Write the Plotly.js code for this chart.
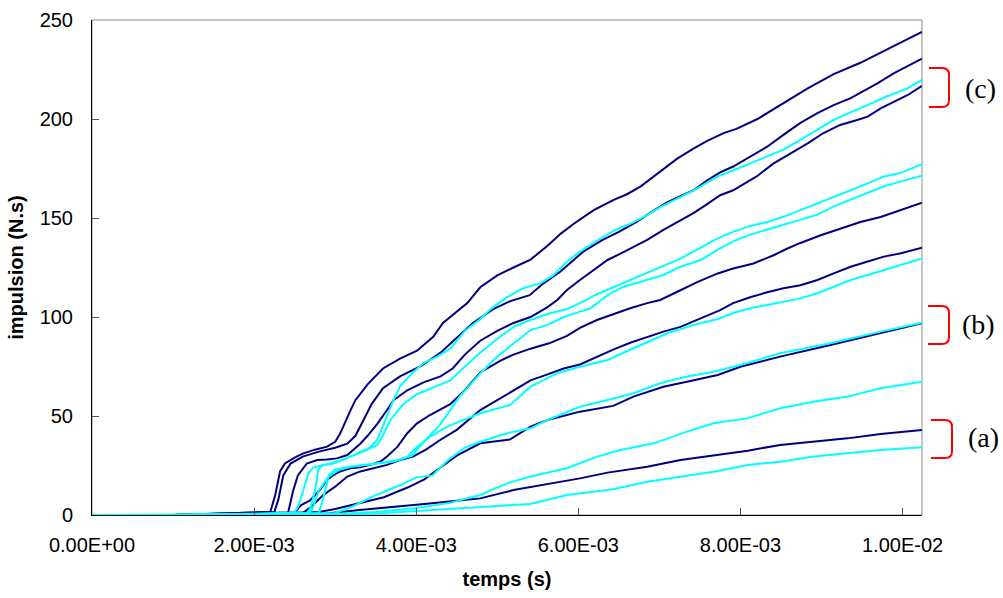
<!DOCTYPE html>
<html>
<head>
<meta charset="utf-8">
<script src="https://cdn.plot.ly/plotly-3.0.1.min.js"></script>
<style>html,body{margin:0;padding:0;background:#fff;}#chart{width:1003px;height:598px;}</style>
</head>
<body>
<div id="chart"></div>
<script>
// ---- data (time in seconds, impulse in N.s) ----
const N244_t = [0,0.001,0.002,0.0022,0.00226,0.00232,0.00238,0.0025,0.0026,0.00275,0.0029,0.003,0.00306,0.00313,0.00319,0.00325,0.0034,0.00359,0.0038,0.00401,0.00421,0.00433,0.00442,0.00463,0.00479,0.005,0.0052,0.00541,0.00562,0.00578,0.00594,0.00619,0.00643,0.0066,0.00677,0.00693,0.00705,0.00722,0.00742,0.00759,0.0078,0.00795,0.00821,0.00849,0.00883,0.00915,0.00948,0.00981,0.01024];
const N244_v = [0,0,1.2,1.6,10,22,26,29,31,33,34.5,37,41,48,53,58,66,74,79,83,90,97,100,107,115,121,125,129,136,142,147,154,159,162,166,171,175,180,185,189,193,195,200,207,215.5,222.7,228.4,235.2,244];

const N230_t = [0,0.001,0.002,0.00225,0.0023,0.00236,0.00245,0.0026,0.0028,0.003,0.00315,0.00325,0.00335,0.00345,0.00359,0.0038,0.00405,0.0043,0.00446,0.0047,0.00495,0.00516,0.0054,0.00557,0.00578,0.00606,0.0063,0.0065,0.00672,0.0069,0.0071,0.00726,0.00742,0.00759,0.00775,0.00791,0.00812,0.00833,0.00853,0.00874,0.00895,0.00915,0.00936,0.00952,0.00969,0.00989,0.01006,0.01024];
const N230_v = [0,0,1.2,1.5,8,20,26,29.5,32,34,36,40,48,56,64,70,75,82,88,97,104,108,111,117,123,133,139,143,148,153,158,161,164,169,173,176,181,186,192,198,203,207,210.5,214,218,223,226.5,230.5];

const C220_t = [0,0.001,0.002,0.0025,0.00255,0.0026,0.00267,0.00273,0.0029,0.0031,0.00327,0.0034,0.00352,0.00364,0.00372,0.0038,0.00396,0.0041,0.00426,0.00442,0.0046,0.00479,0.00492,0.00512,0.00532,0.00553,0.00569,0.00586,0.00602,0.00623,0.00643,0.00664,0.00685,0.00701,0.00726,0.00751,0.00772,0.00791,0.00812,0.00833,0.00853,0.00874,0.00895,0.00915,0.00936,0.00957,0.00981,0.01006,0.01024];
const C220_v = [0,0,0.6,1.2,5,12,21,24,25.5,28,31,33,38,50,58,65,72,77,80,84,93,99,104,110,114.5,117,121,128,133,138.5,143.5,147,151.5,155.5,160.5,166,171,174,177.5,181,184.5,189.5,194.5,199.5,203.5,207,211.5,215.5,219.7];

const N217_t = [0,0.001,0.002,0.00242,0.00248,0.00254,0.00265,0.00278,0.0029,0.00302,0.00315,0.00322,0.00331,0.0034,0.00352,0.00364,0.00372,0.00389,0.00409,0.0043,0.00445,0.0046,0.00479,0.005,0.0052,0.00541,0.00562,0.00574,0.00586,0.00602,0.00619,0.00636,0.00652,0.00668,0.00685,0.00705,0.00726,0.00742,0.00759,0.00775,0.00791,0.0082,0.00841,0.00862,0.00883,0.00902,0.00923,0.00944,0.00957,0.00973,0.00989,0.01006,0.01024];
const N217_v = [0,0,1,1.3,12,20,26,27.8,28,28.6,30.3,33,36,40,46,53,58,63,67,70,74,81,88,93,97,100,105,108.6,113.6,118.7,123.7,128.8,132,135.5,139,144,149,152.5,157,161.5,164,171,177.6,182.7,187.7,192.8,197,199.5,201.2,205.4,208.7,212,216.7];

const C178_t = [0,0.001,0.002,0.00265,0.00269,0.00275,0.00279,0.00284,0.00298,0.00319,0.00331,0.00343,0.00352,0.00358,0.00368,0.00384,0.00401,0.00421,0.00442,0.0046,0.00479,0.005,0.0052,0.00541,0.00562,0.00586,0.00602,0.00623,0.00643,0.00664,0.00685,0.00705,0.00726,0.00751,0.00772,0.00791,0.00812,0.00833,0.00853,0.00874,0.00895,0.00915,0.00936,0.00957,0.00977,0.00998,0.01024];
const C178_v = [0,0,0.5,1,3,12,22.7,25.3,26,29.5,32,33.7,35.4,39.5,48,56,61,64.6,68,75,82,89,95,98.5,101.5,104,107,111.5,115,118.5,122,125.5,129.5,135,139.7,143,146,148,150.6,154,157.3,160.7,164,167.5,171,172.8,177.2];

const C171_t = [0,0.001,0.002,0.0028,0.00285,0.00292,0.003,0.0032,0.0034,0.0036,0.0038,0.00395,0.00405,0.00418,0.0043,0.00442,0.00454,0.00467,0.00479,0.005,0.0052,0.00541,0.00562,0.00582,0.00602,0.00615,0.00636,0.00656,0.00677,0.00705,0.00726,0.00751,0.00772,0.00791,0.00812,0.00833,0.00853,0.00874,0.00895,0.00915,0.00936,0.00957,0.00977,0.00998,0.01024];
const C171_v = [0,0,0.4,1,8,20,23,24.5,25.5,26.5,28,30,35,41,46,53,60,66,71.5,80,86.7,93.4,96,100,102.7,104.4,111,115.3,117.8,121.2,125.4,128.8,134,138.2,141.6,144.1,146.6,149.2,151.7,155.9,159.3,162.6,166,168.5,171.4];

const N157_t = [0,0.001,0.002,0.0025,0.00258,0.00269,0.00281,0.0029,0.00298,0.00306,0.00319,0.00331,0.00343,0.00356,0.00364,0.00377,0.00389,0.00401,0.00417,0.00442,0.0046,0.00479,0.00504,0.0052,0.00541,0.00564,0.00586,0.00602,0.00623,0.00643,0.00664,0.00685,0.00701,0.00726,0.00746,0.00772,0.00791,0.00816,0.00841,0.00858,0.00874,0.00899,0.00923,0.00948,0.00973,0.00998,0.01024];
const N157_v = [0,0,0.8,1.3,5,7.4,12.6,17.7,20.2,22,23.6,24.1,25.3,27,29.5,34.5,41.3,46.3,50.5,56,63,72,78,81,84,86.7,90.5,94.5,98.5,101.5,104.4,107,108.6,113.5,117.5,122,124.5,127,131.2,134.6,137.4,141.3,144.7,148,150.5,153.9,157.7];

const N135_t = [0,0.001,0.002,0.0026,0.0027,0.00285,0.003,0.00315,0.00331,0.00347,0.00364,0.0038,0.00396,0.00412,0.0043,0.0045,0.00465,0.00479,0.005,0.0052,0.00541,0.00562,0.00582,0.00602,0.00623,0.00643,0.00664,0.00685,0.00705,0.00726,0.00746,0.00775,0.00791,0.00812,0.00833,0.00853,0.00874,0.00895,0.00915,0.00936,0.00957,0.00977,0.00998,0.01024];
const N135_v = [0,0,0.6,1,4,10,14.3,19.4,22,23.6,25.3,27.8,29.5,33,38,43,48,53,58,63,68,71,74,76,80,83.5,87,90,92.6,95,98.5,103.5,107,110,112.5,114.5,116,118.7,122,125.4,128,130.5,132.2,135];

const C130_t = [0,0.001,0.002,0.00265,0.00272,0.0028,0.00292,0.00304,0.00319,0.00336,0.00356,0.00373,0.00389,0.00401,0.00417,0.00438,0.00479,0.00516,0.00541,0.00574,0.00602,0.00636,0.00668,0.0071,0.00742,0.00772,0.00791,0.00812,0.00833,0.00853,0.00874,0.00895,0.00915,0.00936,0.00957,0.00977,0.00998,0.01024];
const C130_v = [0,0,0.4,0.8,3,12.6,19.4,22.7,24.4,25.3,26.1,27,29.5,34.5,39.5,44.6,51.4,55.6,64.8,71.6,74.9,78.3,84.2,91.8,96,99,102,104.4,106.1,107.7,109.4,112,115.3,118.7,121.2,123.7,126.3,129.6];

const N97_t = [0,0.001,0.002,0.0026,0.0028,0.003,0.0033,0.0036,0.0039,0.0041,0.0043,0.0045,0.00479,0.00516,0.00541,0.00562,0.00602,0.00643,0.00668,0.00705,0.00734,0.00772,0.008,0.00849,0.00911,0.00973,0.01024];
const N97_v = [0,0,0.5,1,1.5,3,6,9,14,18,24,30,36.2,38.2,44.6,48,52.2,55.1,59.8,64.8,67.3,70.7,74.9,80,85.9,91.8,96.8];

const C97_t = [0,0.001,0.002,0.0028,0.003,0.0032,0.0035,0.0038,0.004,0.0042,0.0044,0.0046,0.00479,0.00512,0.00541,0.00562,0.00602,0.00636,0.00668,0.00701,0.00734,0.00767,0.008,0.00849,0.00911,0.00973,0.01024];
const C97_v = [0,0,0.3,0.8,1,4,10,15,19,20,28,34,37,41.3,43.8,48,54.7,58.1,61.5,66.5,69.9,72.4,75.8,81.7,86.7,92.6,97.1];

const C67_t = [0,0.001,0.002,0.003,0.0035,0.004,0.0044,0.00479,0.00512,0.00541,0.00586,0.00623,0.00652,0.00693,0.00734,0.00767,0.00808,0.00849,0.0089,0.00932,0.00973,0.01024];
const C67_v = [0,0,0.2,0.5,1.5,3.5,6,10.1,16,19.4,23.6,29.5,32.8,36.2,42.1,46.3,48.8,53.9,57.2,59.8,64,67.3];

const N43_t = [0,0.001,0.002,0.0029,0.0033,0.0037,0.0041,0.0045,0.00479,0.0052,0.00569,0.00602,0.00636,0.00685,0.00726,0.00767,0.00809,0.00849,0.0089,0.00932,0.00973,0.01024];
const N43_v = [0,0,0.5,0.8,2.5,4.2,5.6,7.2,8.4,12.6,16,18.5,21.4,24.4,27.8,30.3,32.5,35.4,37,38.7,40.9,42.9];

const C34_t = [0,0.001,0.002,0.003,0.0036,0.0042,0.00479,0.00541,0.00586,0.00643,0.00685,0.00726,0.00767,0.00809,0.00849,0.0089,0.00932,0.00973,0.01024];
const C34_v = [0,0,0.1,0.2,1,2.5,4.2,5.6,10.1,13,16.8,19.4,21.9,25.3,26.9,29.5,31.2,32.8,34.2];

const xTickVals = [0, 0.002, 0.004, 0.006, 0.008, 0.010];
const xTickLabels = ['0.00E+00', '2.00E-03', '4.00E-03', '6.00E-03', '8.00E-03', '1.00E-02'];
const yTickVals = [0, 50, 100, 150, 200, 250];

const groupLabels = ['(c)', '(b)', '(a)'];

// ---- styling ----
const NAVY = '#000080';
const CYAN = '#00FFFF';
const series = [
  [N244_t, N244_v, NAVY], [N230_t, N230_v, NAVY], [N217_t, N217_v, NAVY],
  [N157_t, N157_v, NAVY], [N135_t, N135_v, NAVY], [N97_t, N97_v, NAVY], [N43_t, N43_v, NAVY],
  [C220_t, C220_v, CYAN], [C178_t, C178_v, CYAN], [C171_t, C171_v, CYAN],
  [C130_t, C130_v, CYAN], [C97_t, C97_v, CYAN], [C67_t, C67_v, CYAN], [C34_t, C34_v, CYAN]
];
const traces = series.map(s => ({
  x: s[0], y: s[1], type: 'scatter', mode: 'lines',
  line: {color: s[2], width: 2}, showlegend: false, hoverinfo: 'skip'
}));

// plot area in pixels
const L = 92, R = 922, T = 20, B = 515;
const W = 1003, H = 598;
const px = x => (x - L) / (R - L);
const py = y => (B - y) / (B - T);

function bracket(x0, x1, y0, y1) {
  const r = 7;
  const p = [
    'M', px(x0), py(y0),
    'L', px(x1 - r), py(y0),
    'Q', px(x1), py(y0), px(x1), py(y0 + r),
    'L', px(x1), py(y1 - r),
    'Q', px(x1), py(y1), px(x1 - r), py(y1),
    'L', px(x0), py(y1)
  ].join(' ');
  return {type: 'path', xref: 'paper', yref: 'paper', path: p,
          line: {color: '#FF0000', width: 2}};
}

const shapes = [
  {type: 'rect', xref: 'paper', yref: 'paper', x0: 0, x1: 1, y0: 0, y1: 1,
   line: {color: '#8c8c8c', width: 1}, layer: 'below'},
  bracket(929, 949, 68, 107),
  bracket(928, 949, 306, 344),
  bracket(931, 952, 420, 458)
];

const serif = {family: 'Liberation Serif, Times New Roman, serif', size: 28, color: '#000'};
const annotations = [
  {xref: 'paper', yref: 'paper', x: px(980), y: py(88), text: groupLabels[0], showarrow: false, font: serif, xanchor: 'center', yanchor: 'middle'},
  {xref: 'paper', yref: 'paper', x: px(978), y: py(324), text: groupLabels[1], showarrow: false, font: serif, xanchor: 'center', yanchor: 'middle'},
  {xref: 'paper', yref: 'paper', x: px(983), y: py(437), text: groupLabels[2], showarrow: false, font: serif, xanchor: 'center', yanchor: 'middle'}
];

const font = {family: 'Liberation Sans, Arial, sans-serif', size: 20, color: '#000'};
const layout = {
  width: W, height: H,
  margin: {l: L, r: W - R, t: T, b: H - B},
  paper_bgcolor: '#fff', plot_bgcolor: '#fff',
  font: font,
  showlegend: false,
  xaxis: {
    range: [0, 0.01024], tickvals: xTickVals, ticktext: xTickLabels,
    showgrid: false, zeroline: false, showline: true, linecolor: '#000', linewidth: 1,
    ticks: 'inside', ticklen: 7, tickcolor: '#555', tickwidth: 1,
    ticklabelstandoff: 12,
    tickfont: font,
    title: {text: 'temps (s)', font: {family: font.family, size: 20, color: '#000', weight: 'bold'}, standoff: 16}
  },
  yaxis: {
    range: [0, 250], tickvals: yTickVals,
    showgrid: false, zeroline: false, showline: true, linecolor: '#000', linewidth: 1,
    ticks: 'inside', ticklen: 7, tickcolor: '#555', tickwidth: 1,
    ticklabelstandoff: 14,
    tickfont: font,
    title: {text: 'impulsion (N.s)', font: {family: font.family, size: 20, color: '#000', weight: 'bold'}, standoff: 10}
  },
  shapes: shapes,
  annotations: annotations
};

Plotly.newPlot('chart', traces, layout, {staticPlot: true, displayModeBar: false});
</script>
</body>
</html>
